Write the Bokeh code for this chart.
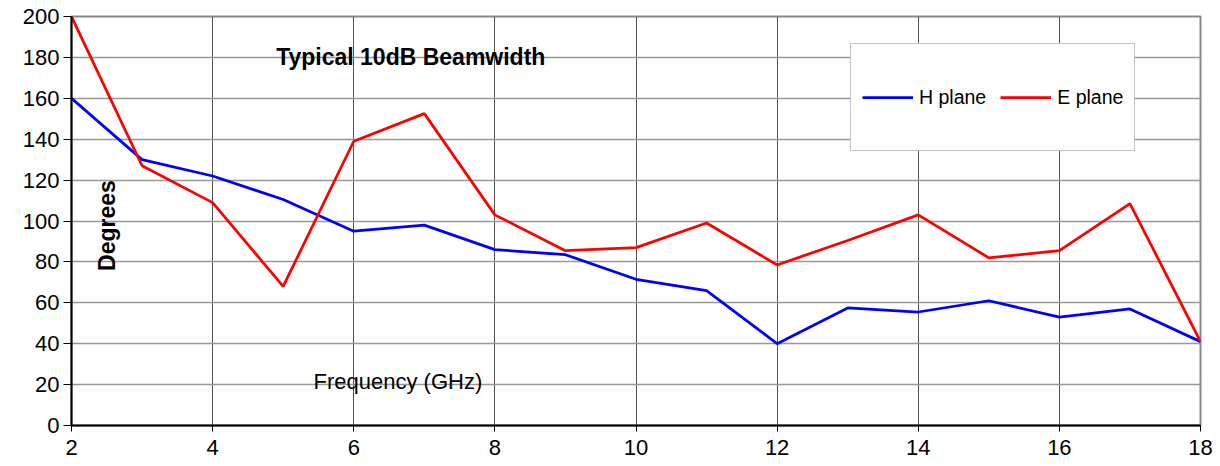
import math
from bokeh.plotting import figure
from bokeh.models import Range1d, Label, FixedTicker
from bokeh.embed import file_html
from bokeh.resources import INLINE

freq_ghz = [2, 3, 4, 5, 6, 7, 8, 9, 10, 11, 12, 13, 14, 15, 16, 17, 18]
h_plane = [160, 130, 122, 110.5, 95, 98, 86, 83.5, 71.5, 66, 40, 57.5, 55.5, 61, 53, 57, 41]
e_plane = [200, 127, 109, 68, 139, 152.5, 103, 85.5, 87, 99, 78.5, 90.5, 103, 82, 85.5, 108.5, 41]
x_ticks = [2, 4, 6, 8, 10, 12, 14, 16, 18]
y_ticks = [0, 20, 40, 60, 80, 100, 120, 140, 160, 180, 200]

FONT = "Liberation Sans"

p = figure(width=1220, height=466, output_backend="svg", toolbar_location=None,
           x_range=Range1d(2, 18), y_range=Range1d(0, 200),
           min_border_left=71, min_border_right=20, min_border_top=16, min_border_bottom=41)
p.background_fill_color = "white"
p.border_fill_color = "white"
p.outline_line_color = "#888888"
p.outline_line_width = 2

p.xaxis.ticker = FixedTicker(ticks=x_ticks)
p.yaxis.ticker = FixedTicker(ticks=y_ticks)
for ax in (p.xaxis, p.yaxis):
    ax.axis_line_color = "black"
    ax.axis_line_width = 2
    ax.major_tick_line_color = "black"
    ax.major_tick_line_width = 1
    ax.major_tick_in = 0
    ax.minor_tick_line_color = None
    ax.major_label_text_font = FONT
    ax.major_label_text_font_size = "22px"
    ax.major_label_text_color = "black"
p.xaxis.major_tick_out = 6
p.yaxis.major_tick_out = 8
p.xaxis.major_label_standoff = 8
p.yaxis.major_label_standoff = 4

p.xgrid.ticker = FixedTicker(ticks=x_ticks)
p.ygrid.ticker = FixedTicker(ticks=y_ticks)
p.xgrid.grid_line_color = "#555555"
p.xgrid.grid_line_width = 1
p.ygrid.grid_line_color = "#999999"
p.ygrid.grid_line_width = 1.5

p.line(freq_ghz, h_plane, line_color="#0000FF", line_width=2.75, legend_label="H plane")
p.line(freq_ghz, e_plane, line_color="#FF0000", line_width=2.75, legend_label="E plane")

lg = p.legend[0]
lg.orientation = "horizontal"
lg.location = (779, 274)
lg.border_line_color = "#888888"
lg.border_line_width = 1
lg.background_fill_color = "white"
lg.background_fill_alpha = 1
lg.label_text_font = FONT
lg.label_text_font_size = "19.5px"
lg.label_text_color = "black"
lg.glyph_width = 51
lg.glyph_height = 84
lg.label_height = 84
lg.label_standoff = 6
lg.spacing = 14
lg.padding = 11
lg.margin = 0

p.add_layout(Label(x=4.9, y=180.4, text="Typical 10dB Beamwidth", text_font=FONT,
                   text_font_size="23px", text_font_style="bold", text_baseline="middle",
                   text_align="left", text_color="black"))
p.add_layout(Label(x=2.51, y=97.8, text="Degrees", angle=math.pi / 2, text_font=FONT,
                   text_font_size="23px", text_font_style="bold", text_baseline="middle",
                   text_align="center", text_color="black"))
p.add_layout(Label(x=5.43, y=21.5, text="Frequency  (GHz)", text_font=FONT,
                   text_font_size="22px", text_baseline="middle", text_align="left",
                   text_color="black"))

open("out.html", "w").write(file_html(p, INLINE))
